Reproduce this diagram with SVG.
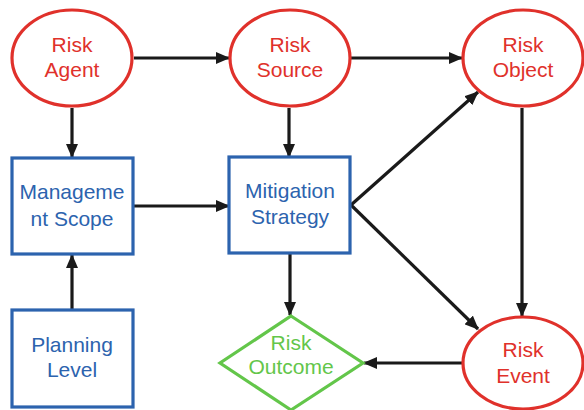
<svg xmlns="http://www.w3.org/2000/svg" width="584" height="410" viewBox="0 0 584 410">
  <style>
    .ell { fill: #ffffff; stroke: #e0312b; stroke-width: 3.2; }
    .box { fill: #ffffff; stroke: #2c63ae; stroke-width: 3.2; }
    .dia { fill: #ffffff; stroke: #63c64a; stroke-width: 3.2; }
    .t { font-family: "Liberation Sans", Arial, sans-serif; font-size: 21px; text-anchor: middle; }
    .tr { fill: #e0312b; }
    .tb { fill: #2c63ae; }
    .tg { fill: #63c64a; }
    .edge { stroke: #1a1a1a; stroke-width: 3.2; fill: none; marker-end: url(#arrow); }
  </style>
  <defs>
    <marker id="arrow" markerUnits="userSpaceOnUse" markerWidth="14" markerHeight="12" refX="13" refY="6" orient="auto">
      <path d="M0,0 L14,6 L0,12 Z" fill="#1a1a1a"/>
    </marker>
  </defs>
  <rect width="584" height="410" fill="#ffffff"/>

  <g id="connectors">
    <line class="edge" x1="134" y1="58" x2="229" y2="58"/>
    <line class="edge" x1="351" y1="58" x2="462" y2="58"/>
    <line class="edge" x1="72" y1="108" x2="72" y2="157"/>
    <line class="edge" x1="289" y1="108" x2="289" y2="157"/>
    <line class="edge" x1="134" y1="206" x2="229" y2="206"/>
    <line class="edge" x1="72" y1="309" x2="72" y2="255"/>
    <line class="edge" x1="290" y1="254" x2="290" y2="315"/>
    <line class="edge" x1="351" y1="205" x2="478" y2="92"/>
    <line class="edge" x1="351" y1="205" x2="478" y2="329"/>
    <line class="edge" x1="522" y1="108" x2="522" y2="316"/>
    <line class="edge" x1="462" y1="363" x2="364" y2="363"/>
  </g>

  <g id="risk-agent">
    <ellipse class="ell" cx="72" cy="58" rx="60" ry="48"/>
    <text class="t tr" x="72" y="52">Risk</text>
    <text class="t tr" x="72" y="77">Agent</text>
  </g>
  <g id="risk-source">
    <ellipse class="ell" cx="290" cy="58" rx="60" ry="48"/>
    <text class="t tr" x="290" y="52">Risk</text>
    <text class="t tr" x="290" y="77">Source</text>
  </g>
  <g id="risk-object">
    <ellipse class="ell" cx="523" cy="58" rx="60" ry="48"/>
    <text class="t tr" x="523" y="52">Risk</text>
    <text class="t tr" x="523" y="77">Object</text>
  </g>
  <g id="management-scope">
    <rect class="box" x="12" y="158" width="121" height="96"/>
    <text class="t tb" x="72" y="199">Manageme</text>
    <text class="t tb" x="72" y="226">nt Scope</text>
  </g>
  <g id="mitigation-strategy">
    <rect class="box" x="229" y="157" width="121" height="96"/>
    <text class="t tb" x="290" y="198">Mitigation</text>
    <text class="t tb" x="290" y="224">Strategy</text>
  </g>
  <g id="planning-level">
    <rect class="box" x="12" y="310" width="121" height="97"/>
    <text class="t tb" x="72" y="352">Planning</text>
    <text class="t tb" x="72" y="377">Level</text>
  </g>
  <g id="risk-outcome">
    <polygon class="dia" points="291,316 363,363 291,410 220,363"/>
    <text class="t tg" x="291" y="350">Risk</text>
    <text class="t tg" x="291" y="374">Outcome</text>
  </g>
  <g id="risk-event">
    <ellipse class="ell" cx="523" cy="363" rx="60" ry="46"/>
    <text class="t tr" x="523" y="357">Risk</text>
    <text class="t tr" x="523" y="383">Event</text>
  </g>
</svg>
